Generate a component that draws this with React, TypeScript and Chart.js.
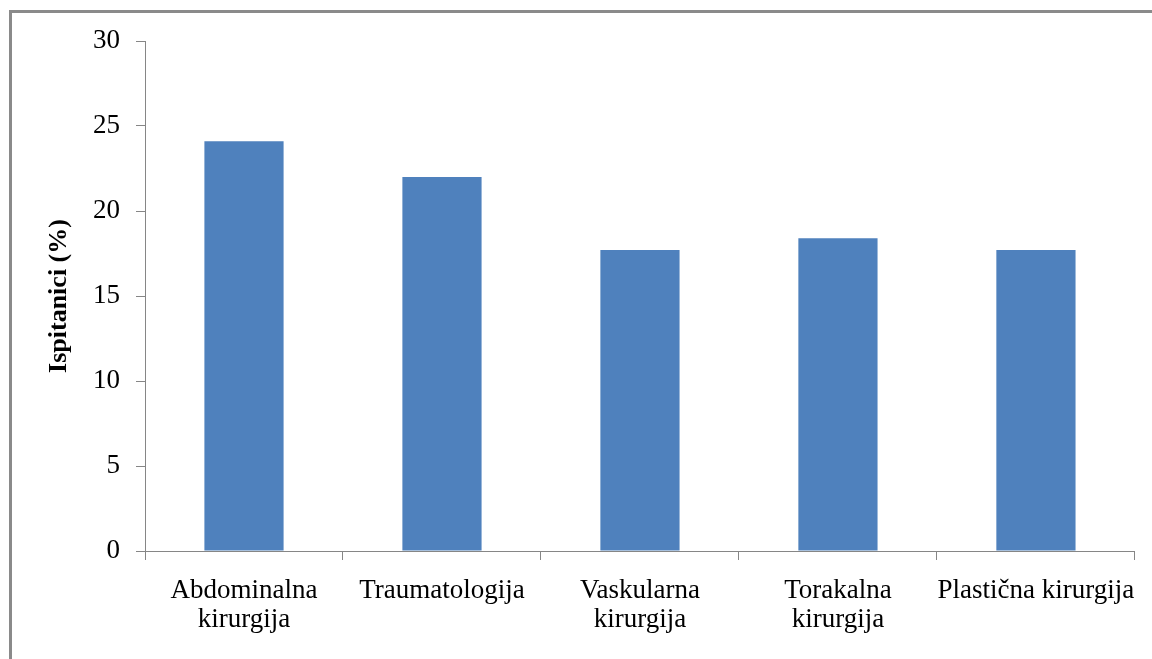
import React, { useEffect, useRef } from "react";
import { Chart, registerables } from "chart.js";

Chart.register(...registerables);

const categories: (string | string[])[] = [
  ["Abdominalna", "kirurgija"],
  "Traumatologija",
  ["Vaskularna", "kirurgija"],
  ["Torakalna", "kirurgija"],
  "Plastična kirurgija",
];
const values: number[] = [24.1, 22.0, 17.7, 18.4, 17.7];
const yAxisTitle = "Ispitanici (%)";
const yMin = 0;
const yMax = 30;
const yStep = 5;

export default function App() {
  const ref = useRef<HTMLCanvasElement | null>(null);

  useEffect(() => {
    if (!ref.current) return;
    const font = { family: "'Liberation Serif', 'Times New Roman', serif", size: 27 };
    const chart = new Chart(ref.current, {
      type: "bar",
      data: {
        labels: categories,
        datasets: [
          {
            data: values,
            backgroundColor: "#4f81bd",
            borderWidth: 0,
            barPercentage: 0.4,
            categoryPercentage: 1,
          },
        ],
      },
      options: {
        animation: false,
        responsive: true,
        maintainAspectRatio: false,
        layout: { padding: { left: 0, right: 17, top: 41, bottom: 0 } },
        plugins: {
          legend: { display: false },
          tooltip: { enabled: false },
          title: { display: false },
        },
        scales: {
          x: {
            offset: true,
            grid: {
              offset: true,
              drawOnChartArea: false,
              drawTicks: true,
              tickLength: 9,
              color: "#868686",
            },
            border: { color: "#868686", width: 1 },
            ticks: {
              color: "#000",
              font: { ...font, lineHeight: 1.08 },
              padding: 16,
              maxRotation: 0,
              minRotation: 0,
              autoSkip: false,
            },
            afterFit: (scale: any) => {
              scale.height = 108;
            },
          },
          y: {
            min: yMin,
            max: yMax,
            grid: {
              drawOnChartArea: false,
              drawTicks: true,
              tickLength: 9,
              color: "#868686",
            },
            border: { color: "#868686", width: 1 },
            ticks: {
              stepSize: yStep,
              color: "#000",
              font,
              padding: 16,
            },
            title: {
              display: true,
              text: yAxisTitle,
              color: "#000",
              font: { family: font.family, size: 26, weight: "bold", lineHeight: 1.2 },
              padding: { top: 44, bottom: 0 },
            },
            afterFit: (scale: any) => {
              scale.width = 145;
            },
          },
        },
      },
    });
    return () => chart.destroy();
  }, []);

  return (
    <div style={{ position: "fixed", left: 0, top: 0, width: 1152, height: 659, background: "#fff" }}>
      <div
        style={{
          position: "absolute",
          left: 9,
          top: 10,
          right: 0,
          bottom: 0,
          borderTop: "3px solid #8a8a8a",
          borderLeft: "3px solid #8a8a8a",
          pointerEvents: "none",
        }}
      />
      <canvas ref={ref} style={{ position: "absolute", left: 0, top: 0 }} />
    </div>
  );
}
